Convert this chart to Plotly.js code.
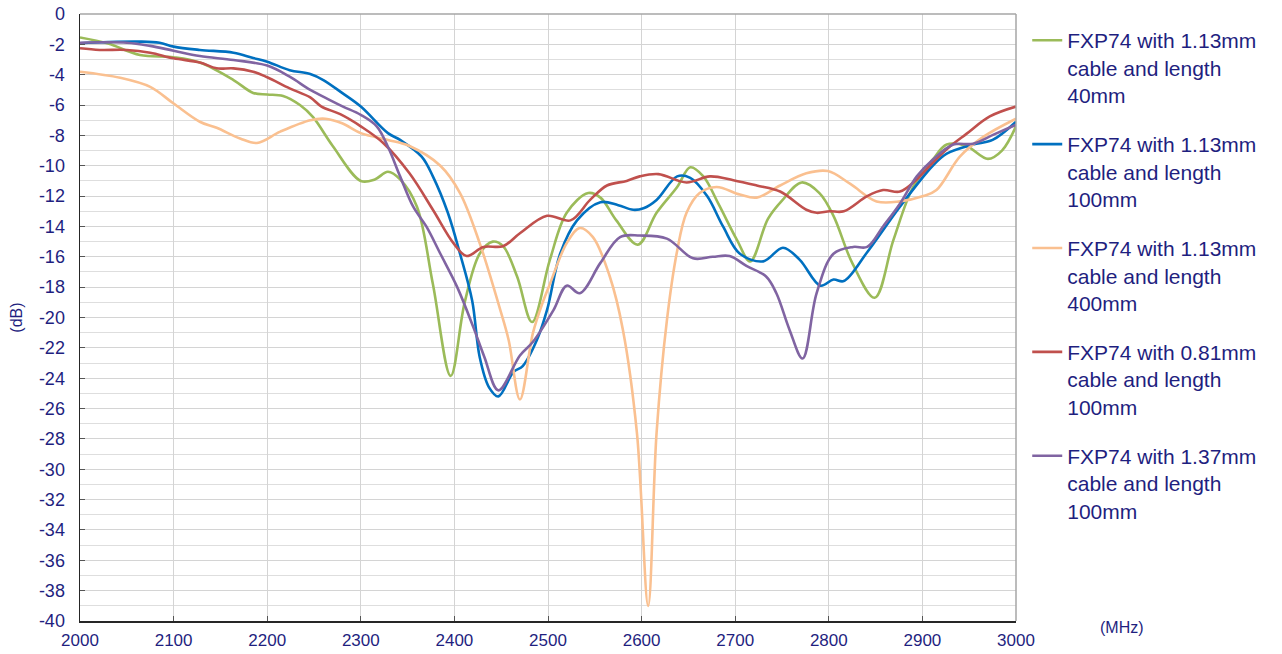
<!DOCTYPE html>
<html>
<head>
<meta charset="utf-8">
<script src="https://cdn.plot.ly/plotly-3.0.1.min.js"></script>
<style>html,body{margin:0;padding:0;background:#fff;}#chart{width:1282px;height:654px;}</style>
</head>
<body>
<div id="chart"></div>
<script>
const seriesNames = [
  "FXP74 with 1.13mm<br>cable and length<br>40mm",
  "FXP74 with 1.13mm<br>cable and length<br>100mm",
  "FXP74 with 1.13mm<br>cable and length<br>400mm",
  "FXP74 with 0.81mm<br>cable and length<br>100mm",
  "FXP74 with 1.37mm<br>cable and length<br>100mm"
];

const green40X = [2000,2030,2064,2100,2128,2164,2185,2200,2217,2235,2249,2270,2300,2315,2329,2342,2360,2377,2396,2411,2427,2441,2452,2467,2483,2502,2520,2543,2556,2573,2596,2616,2638,2652,2666,2682,2702,2716,2735,2750,2771,2790,2805,2825,2849,2869,2890,2911,2926,2947,2970,2985,3000];
const green40Y = [-1.55,-1.95,-2.7,-2.85,-3.2,-4.35,-5.2,-5.3,-5.4,-6.0,-6.8,-8.7,-11.0,-10.9,-10.4,-10.9,-12.7,-17.8,-23.85,-19.0,-15.8,-15.0,-15.3,-17.3,-20.3,-16.2,-13.1,-11.8,-12.1,-13.6,-15.2,-13.1,-11.4,-10.1,-10.7,-12.5,-14.9,-16.3,-13.5,-12.3,-11.1,-11.8,-13.3,-16.4,-18.7,-14.9,-11.4,-9.6,-8.6,-8.7,-9.55,-9.0,-7.4];

const blue100X = [2000,2030,2064,2085,2100,2128,2164,2185,2200,2224,2246,2260,2280,2300,2329,2342,2365,2377,2393,2406,2419,2427,2437,2447,2463,2473,2488,2499,2513,2531,2556,2575,2591,2602,2616,2638,2652,2670,2687,2705,2730,2751,2769,2791,2805,2816,2841,2876,2911,2926,2954,2975,3000];
const blue100Y = [-1.93,-1.85,-1.82,-1.9,-2.15,-2.37,-2.55,-2.9,-3.14,-3.7,-3.95,-4.35,-5.2,-6.1,-7.85,-8.3,-9.4,-10.7,-13.1,-15.8,-18.9,-22.6,-24.6,-25.2,-23.6,-23.2,-21.5,-19.5,-15.8,-13.6,-12.4,-12.6,-12.9,-12.8,-12.25,-10.7,-10.8,-12.0,-14.0,-15.8,-16.3,-15.4,-16.2,-17.9,-17.5,-17.6,-15.7,-12.7,-10.0,-9.2,-8.6,-8.3,-7.1];

const orange400X = [2000,2043,2075,2100,2128,2146,2171,2189,2214,2246,2262,2280,2300,2329,2352,2385,2406,2427,2449,2458,2470,2484,2495,2502,2520,2534,2548,2566,2580,2595,2607,2616,2627,2638,2648,2662,2680,2705,2723,2748,2776,2799,2823,2851,2876,2901,2915,2940,2965,3000];
const orange400Y = [-3.8,-4.2,-4.8,-5.9,-7.1,-7.5,-8.2,-8.5,-7.75,-7.0,-6.9,-7.2,-7.85,-8.3,-8.7,-10.0,-11.8,-15.1,-19.5,-21.5,-25.4,-21.0,-18.9,-17.8,-15.1,-14.1,-14.7,-17.3,-20.8,-27.6,-39.0,-27.6,-20.2,-15.6,-13.1,-11.8,-11.4,-11.9,-12.1,-11.3,-10.5,-10.35,-11.2,-12.35,-12.35,-12.0,-11.6,-9.4,-8.1,-6.9];

const red081X = [2000,2021,2050,2075,2100,2128,2146,2164,2185,2200,2224,2246,2258,2278,2300,2324,2352,2377,2399,2413,2431,2452,2470,2499,2524,2545,2563,2584,2598,2618,2648,2673,2698,2723,2748,2776,2787,2801,2816,2841,2858,2876,2894,2911,2929,2947,2972,3000];
const red081Y = [-2.26,-2.37,-2.37,-2.55,-2.92,-3.2,-3.58,-3.58,-3.8,-4.17,-4.9,-5.5,-6.1,-6.6,-7.4,-8.5,-10.5,-12.9,-15.1,-15.95,-15.35,-15.3,-14.45,-13.3,-13.6,-12.25,-11.3,-11.0,-10.7,-10.55,-11.1,-10.7,-10.95,-11.3,-11.7,-12.9,-13.1,-13.0,-13.0,-12.0,-11.6,-11.7,-10.9,-9.8,-8.75,-7.9,-6.75,-6.1];

const purple137X = [2000,2050,2075,2100,2128,2164,2200,2224,2246,2267,2281,2300,2317,2329,2342,2356,2370,2385,2403,2420,2432,2447,2470,2484,2506,2520,2534,2556,2577,2598,2627,2655,2676,2694,2712,2733,2744,2758,2772,2787,2805,2826,2841,2858,2876,2894,2911,2933,2954,2976,3000];
const purple137Y = [-1.89,-1.89,-2.1,-2.42,-2.77,-3.03,-3.4,-4.13,-5.0,-5.67,-6.1,-6.65,-7.4,-8.75,-10.7,-12.7,-14.0,-15.8,-18.0,-20.6,-22.6,-24.8,-22.5,-21.6,-19.5,-17.9,-18.4,-16.4,-14.7,-14.6,-14.8,-16.1,-16.0,-15.95,-16.6,-17.3,-18.4,-20.8,-22.7,-18.4,-15.8,-15.35,-15.35,-14.0,-12.5,-10.7,-9.6,-8.6,-8.55,-7.95,-7.3];

const xTicks = [2000,2100,2200,2300,2400,2500,2600,2700,2800,2900,3000];
const yTicks = [0,-2,-4,-6,-8,-10,-12,-14,-16,-18,-20,-22,-24,-26,-28,-30,-32,-34,-36,-38,-40];

const colors = ["#9BBB59","#0070C0","#FAC090","#C0504D","#8064A2"];
const xs = [green40X, blue100X, orange400X, red081X, purple137X];
const ys = [green40Y, blue100Y, orange400Y, red081Y, purple137Y];

const txt = "#1F1F7F";
const traces = xs.map((x, i) => ({
  type: "scatter", mode: "lines", x: x, y: ys[i], name: seriesNames[i],
  legendgroup: "g" + i,
  line: {color: colors[i], width: 2.6, shape: "spline", smoothing: 1}
}));

const layout = {
  width: 1282, height: 654,
  margin: {l: 80, r: 266, t: 14, b: 33},
  paper_bgcolor: "#fff", plot_bgcolor: "#fff",
  font: {family: "Liberation Sans, Arial, sans-serif", color: txt},
  showlegend: true,
  legend: {
    x: 1.012, y: 0.99, xanchor: "left", yanchor: "top", valign: "top",
    font: {size: 21, color: txt, family: "Liberation Sans, Arial, sans-serif"},
    tracegroupgap: 19, itemwidth: 30, bgcolor: "rgba(0,0,0,0)"
  },
  xaxis: {
    range: [2000, 3000], tickvals: xTicks, ticktext: xTicks.map(String),
    showgrid: true, gridcolor: "#d4d4d4", gridwidth: 1,
    showline: true, linecolor: "#262626", linewidth: 1.5,
    ticks: "inside", ticklen: 5, tickcolor: "#555", zeroline: false,
    tickfont: {size: 17, color: txt}, ticklabelstandoff: 3, fixedrange: true
  },
  yaxis: {
    range: [-40, 0], tickvals: yTicks, ticktext: yTicks.map(String),
    showgrid: true, gridcolor: "#d4d4d4", gridwidth: 1,
    minor: {dtick: 1, showgrid: true, gridcolor: "#dedede", gridwidth: 1},
    showline: true, linecolor: "#262626", linewidth: 1.5,
    ticks: "inside", ticklen: 5, tickcolor: "#555", zeroline: false,
    tickfont: {size: 18, color: txt}, ticklabelstandoff: 10,
    title: {text: "(dB)", font: {size: 16, color: txt}, standoff: 12},
    fixedrange: true
  },
  shapes: [
    {type: "line", xref: "paper", yref: "paper", x0: 0, x1: 1, y0: 1, y1: 1, line: {color: "#a6a6a6", width: 1.5}},
    {type: "line", xref: "paper", yref: "paper", x0: 1, x1: 1, y0: 0, y1: 1, line: {color: "#a6a6a6", width: 1.5}}
  ],
  annotations: [
    {text: "(MHz)", xref: "paper", yref: "paper", x: 1.113, y: -0.0099, xanchor: "center", yanchor: "middle", showarrow: false, font: {size: 16, color: txt}}
  ]
};

Plotly.newPlot("chart", traces, layout, {displayModeBar: false, staticPlot: true});
</script>
</body>
</html>
